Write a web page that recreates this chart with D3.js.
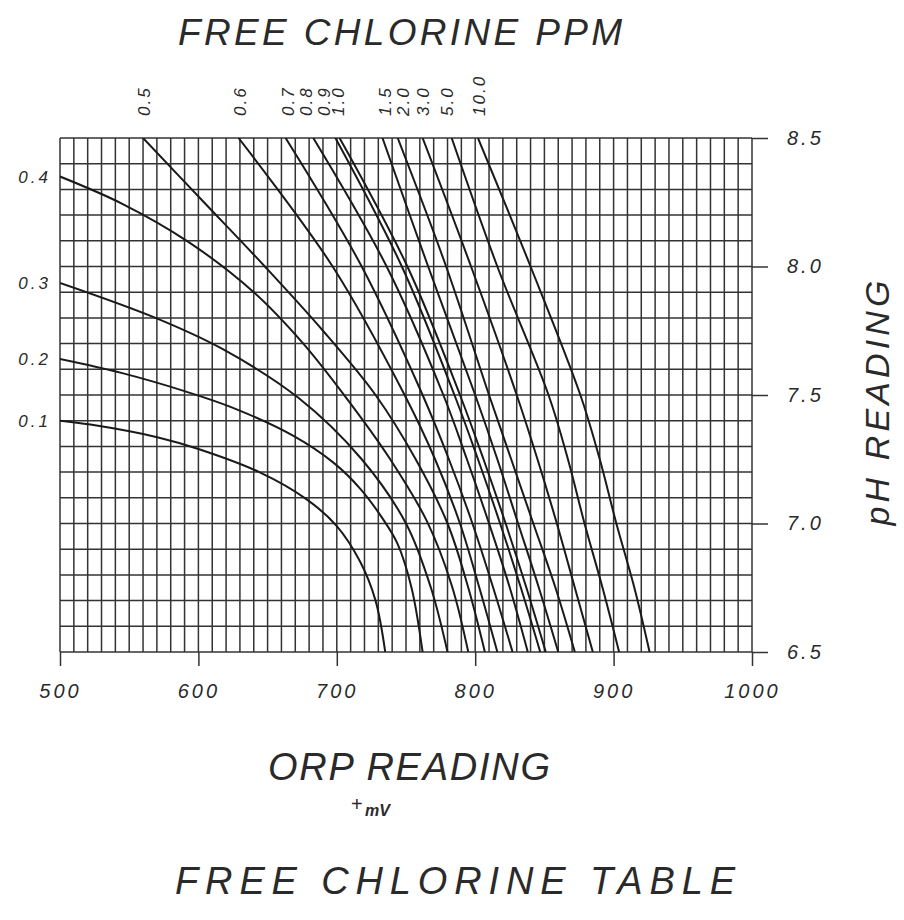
<!DOCTYPE html>
<html>
<head>
<meta charset="utf-8">
<script src="https://cdn.jsdelivr.net/npm/d3@7"></script>
<style>
  body { margin: 0; background: #fff; }
  text { font-family: "Liberation Sans", "DejaVu Sans", sans-serif; font-style: italic; fill: #2a2a2a; }
</style>
</head>
<body>
<svg id="chart"></svg>
<script>
// axis ticks
const orpTicks = [500, 600, 700, 800, 900, 1000];
const phTicks = [6.5, 7.0, 7.5, 8.0, 8.5];

// free chlorine curves, [ORP mV, pH]
const ppm01 = [[500, 7.40], [522, 7.385], [571, 7.335], [600, 7.29], [644, 7.2], [678, 7.095], [700, 6.99], [717, 6.85], [728, 6.7], [735, 6.5]];
const ppm02 = [[500, 7.64], [545, 7.585], [590, 7.515], [625, 7.45], [669, 7.34], [698, 7.235], [717, 7.135], [733, 7.02], [744, 6.92], [754, 6.75], [762, 6.5]];
const ppm03 = [[500, 7.936], [569, 7.80], [617, 7.68], [672, 7.49], [718, 7.25], [750, 7.0], [768, 6.75], [780, 6.5]];
const ppm04 = [[500, 8.35], [545, 8.244], [593, 8.095], [640, 7.9], [675, 7.705], [706, 7.495], [738, 7.255], [765, 7.01], [783, 6.76], [795, 6.5]];
const ppm05 = [[560, 8.5], [604, 8.25], [648, 8.0], [690, 7.75], [728, 7.5], [757, 7.25], [780, 7.0], [795, 6.75], [807, 6.5]];
const ppm06 = [[629, 8.5], [697, 8.0], [749, 7.5], [771, 7.25], [789, 7.0], [803, 6.75], [816, 6.5]];
const ppm07 = [[663, 8.5], [718, 8.0], [762, 7.5], [781, 7.25], [798, 7.0], [813, 6.75], [827, 6.5]];
const ppm08 = [[683, 8.5], [736, 8.0], [777, 7.5], [794, 7.25], [810, 7.0], [825, 6.75], [838, 6.5]];
const ppm09 = [[699, 8.5], [747, 8.0], [785, 7.5], [802, 7.25], [818, 7.0], [833, 6.75], [847, 6.5]];
const ppm10 = [[702, 8.5], [751, 8.0], [789, 7.5], [806, 7.25], [822, 7.0], [837, 6.75], [851, 6.5]];
const ppm15 = [[733, 8.5], [766, 8.0], [800, 7.5], [816, 7.25], [831, 7.0], [846, 6.75], [860, 6.5]];
const ppm20 = [[744, 8.5], [779, 8.0], [810, 7.5], [826, 7.25], [842, 7.0], [858, 6.75], [872, 6.5]];
const ppm30 = [[762, 8.5], [797, 8.0], [830, 7.5], [845, 7.25], [859, 7.0], [872, 6.75], [885, 6.5]];
const ppm50 = [[783, 8.5], [816, 8.0], [853, 7.5], [867, 7.25], [879, 7.0], [892, 6.75], [904, 6.5]];
const ppm100 = [[802, 8.5], [840, 8.0], [876, 7.5], [890, 7.25], [902, 7.0], [915, 6.75], [926, 6.5]];

// labels down the left edge and along the top
const leftLabels = ["0.1", "0.2", "0.3", "0.4"];
const topLabels = ["0.5", "0.6", "0.7", "0.8", "0.9", "1.0", "1.5", "2.0", "3.0", "5.0", "10.0"];
const topLabelMv = [561, 630, 665, 678, 691, 701, 735, 748, 762, 780, 803];

const curves = [ppm01, ppm02, ppm03, ppm04, ppm05, ppm06, ppm07, ppm08, ppm09, ppm10, ppm15, ppm20, ppm30, ppm50, ppm100];

const width = 904, height = 920;
const svg = d3.select("#chart").attr("width", width).attr("height", height);

const x = d3.scaleLinear().domain([500, 1000]).range([60, 752]);
const y = d3.scaleLinear().domain([6.5, 8.5]).range([652, 138]);

// grid: every 10 mV and every 0.1 pH
const grid = svg.append("g").attr("stroke", "#333").attr("stroke-width", 1.5);
grid.selectAll(".vline")
  .data(d3.range(500, 1001, 10))
  .join("line")
  .attr("x1", d => x(d)).attr("x2", d => x(d))
  .attr("y1", y(8.5)).attr("y2", y(6.5));
grid.selectAll(".hline")
  .data(d3.range(0, 21).map(i => 6.5 + i * 0.1))
  .join("line")
  .attr("x1", x(500)).attr("x2", x(1000))
  .attr("y1", d => y(d)).attr("y2", d => y(d));

// axes (ticks only)
const xAxis = svg.append("g")
  .attr("transform", `translate(0,${y(6.5)})`)
  .call(d3.axisBottom(x).tickValues(orpTicks).tickSize(14).tickPadding(18).tickFormat(d3.format("d")));
const yAxis = svg.append("g")
  .attr("transform", `translate(${x(1000)},0)`)
  .call(d3.axisRight(y).tickValues(phTicks).tickSize(16).tickPadding(19).tickFormat(d3.format(".1f")));
[xAxis, yAxis].forEach(a => {
  a.select(".domain").remove();
  a.selectAll(".tick line").attr("stroke", "#333").attr("stroke-width", 1.5);
  a.selectAll("text").attr("fill", "#2a2a2a").style("font-size", "20px").style("letter-spacing", "3px");
});

// curves
svg.append("clipPath").attr("id", "plot")
  .append("rect")
  .attr("x", x(500)).attr("y", y(8.5))
  .attr("width", x(1000) - x(500)).attr("height", y(6.5) - y(8.5));

const line = d3.line()
  .x(d => x(d[0]))
  .y(d => y(d[1]))
  .curve(d3.curveCatmullRom.alpha(0.5));

svg.append("g")
  .attr("clip-path", "url(#plot)")
  .selectAll("path")
  .data(curves)
  .join("path")
  .attr("d", line)
  .attr("fill", "none")
  .attr("stroke", "#1a1a1a")
  .attr("stroke-width", 2);

// left edge labels
svg.selectAll(".left-label")
  .data(leftLabels)
  .join("text")
  .attr("x", x(500) - 9)
  .attr("y", (d, i) => y(curves[i][0][1]))
  .attr("dy", "0.35em")
  .attr("text-anchor", "end")
  .style("font-size", "17px")
  .style("letter-spacing", "3px")
  .text(d => d);

// top labels, rotated
svg.selectAll(".top-label")
  .data(topLabels)
  .join("text")
  .attr("transform", (d, i) => `translate(${x(topLabelMv[i])},116) rotate(-90)`)
  .attr("dy", "0.35em")
  .style("font-size", "17px")
  .style("letter-spacing", "2px")
  .text(d => d);

// titles
svg.append("text")
  .attr("x", 400).attr("y", 45)
  .attr("text-anchor", "middle")
  .attr("textLength", 444)
  .style("font-size", "37px")
  .text("FREE CHLORINE PPM");

svg.append("text")
  .attr("x", 409).attr("y", 780)
  .attr("text-anchor", "middle")
  .attr("textLength", 282)
  .style("font-size", "38px")
  .text("ORP READING");

svg.append("text")
  .attr("x", 351).attr("y", 811)
  .style("font-size", "20px")
  .style("font-style", "normal")
  .text("+");
svg.append("text")
  .attr("x", 365).attr("y", 816)
  .style("font-size", "16px")
  .style("font-weight", "bold")
  .text("mV");

svg.append("text")
  .attr("transform", "translate(889,403) rotate(-90)")
  .attr("text-anchor", "middle")
  .attr("textLength", 245)
  .style("font-size", "34px")
  .text("pH READING");

svg.append("text")
  .attr("x", 455).attr("y", 894)
  .attr("text-anchor", "middle")
  .attr("textLength", 560)
  .style("font-size", "38px")
  .text("FREE CHLORINE TABLE");
</script>
</body>
</html>
